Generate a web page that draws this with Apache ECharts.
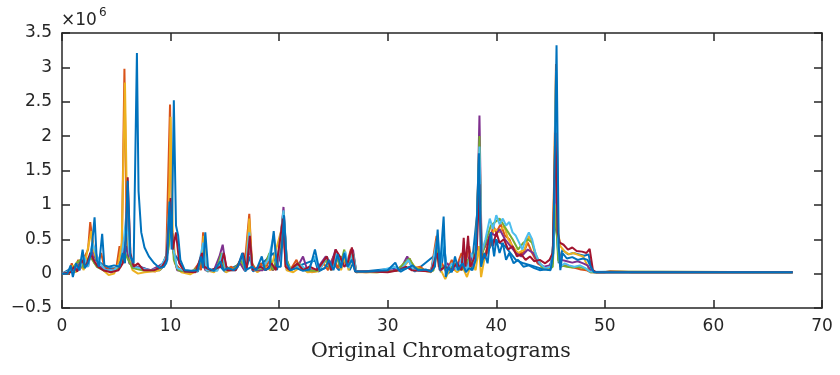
<!DOCTYPE html>
<html><head><meta charset="utf-8">
<script src="https://cdn.jsdelivr.net/npm/echarts@6/dist/echarts.min.js"></script>
<style>html,body{margin:0;padding:0;background:#fff;}#c{width:840px;height:375px;}</style>
</head><body><div id="c"></div>
<script>
// Axis settings / tick labels
const xTicks = [0, 10, 20, 30, 40, 50, 60, 70];
const yTicks = [-0.5, 0, 0.5, 1, 1.5, 2, 2.5, 3, 3.5];
const xTitle = 'Original Chromatograms';
const yExponent = '6';
const seriesColors = ['#0072BD', '#D95319', '#EDB120', '#7E2F8E', '#77AC30', '#4DBEEE', '#A2142F', '#0072BD'];

// Chromatogram traces: [time (min), intensity (x10^6)]
const blueA = [[0,0],[0.9,0.08],[1.2,0.02],[1.6,0.15],[2.0,0.1],[2.5,0.2],[2.8,0.4],[3.1,0.2],[3.6,0.15],[4.2,0.08],[5.0,0.08],[5.6,0.25],[5.95,0.6],[6.2,0.2],[6.6,0.1],[7.2,0.1],[8.0,0.05],[9.0,0.05],[9.6,0.15],[10.0,0.7],[10.3,0.3],[10.7,0.2],[11.2,0.05],[12.5,0.03],[13.1,0.25],[13.4,0.03],[14.6,0.1],[15.0,0.03],[16.5,0.15],[16.9,0.03],[17.3,0.25],[17.6,0.03],[19.5,0.3],[19.8,0.05],[20.4,0.6],[20.7,0.05],[23.3,0.2],[23.6,0.03],[25.0,0.15],[25.5,0.05],[26.1,0.2],[26.5,0.05],[26.8,0.15],[27.1,0.02],[30.7,0.08],[31.2,0.03],[32.0,0.1],[32.5,0.03],[34.6,0.3],[34.9,0.02],[35.2,0.4],[35.5,0.0],[37.4,0.2],[37.7,0.05],[38.45,1.2],[38.7,0.2],[39.3,0.35],[39.8,0.5],[40.3,0.45],[40.8,0.4],[41.3,0.3],[41.8,0.2],[42.5,0.15],[43.2,0.12],[44.0,0.08],[45.0,0.08],[45.5,0.82],[45.75,0.15],[46.1,0.35],[46.6,0.28],[47.1,0.3],[47.6,0.28],[48.1,0.26],[48.5,0.28],[48.8,0.05],[49.1,0.02],[67.3,0.02]];

const orange = [[0,0],[0.6,0],[0.9,0.15],[1.1,0.05],[1.5,0.2],[1.8,0.08],[2.1,0.25],[2.4,0.35],[2.6,0.75],[2.8,0.5],[3.0,0.3],[3.3,0.15],[3.6,0.3],[3.9,0.1],[4.4,0.05],[5.0,0.08],[5.3,0.4],[5.5,0.2],[5.75,2.98],[5.95,0.6],[6.2,0.3],[6.5,0.15],[6.9,0.1],[7.3,0.08],[8.0,0.05],[8.6,0.03],[9.2,0.1],[9.6,0.25],[9.95,2.46],[10.15,0.5],[10.4,0.15],[10.8,0.08],[11.3,0.03],[12.0,0.02],[12.6,0.15],[12.8,0.05],[13.0,0.6],[13.2,0.1],[13.6,0.05],[14.3,0.05],[14.7,0.2],[15.0,0.05],[15.6,0.1],[16.0,0.05],[16.5,0.2],[16.8,0.08],[17.25,0.87],[17.5,0.15],[17.9,0.05],[18.3,0.15],[18.7,0.05],[19.1,0.2],[19.4,0.05],[19.8,0.1],[20.35,0.85],[20.6,0.1],[21.0,0.05],[21.6,0.2],[22.0,0.05],[22.5,0.08],[23.0,0.02],[23.7,0.05],[24.1,0.15],[24.5,0.05],[25.0,0.25],[25.4,0.08],[25.8,0.25],[26.2,0.12],[26.6,0.35],[27.0,0.03],[28,0.02],[29,0.03],[30,0.03],[31,0.05],[31.6,0.15],[32.0,0.22],[32.4,0.08],[33.0,0.1],[33.4,0.05],[34.0,0.04],[34.5,0.55],[34.7,0.1],[35.0,0.15],[35.4,0.02],[35.9,0.2],[36.3,0.08],[36.8,0.3],[37.1,0.1],[37.5,0.4],[37.8,0.1],[38.1,0.3],[38.4,1.6],[38.6,0.2],[39.0,0.25],[39.4,0.4],[39.7,0.7],[40.0,0.6],[40.4,0.72],[40.8,0.55],[41.2,0.5],[41.6,0.35],[42.0,0.3],[42.5,0.3],[42.9,0.45],[43.3,0.3],[43.8,0.15],[44.3,0.1],[44.8,0.08],[45.2,0.15],[45.5,3.05],[45.7,0.5],[45.9,0.1],[46.3,0.12],[46.8,0.1],[47.3,0.08],[47.8,0.06],[48.3,0.05],[48.7,0.02],[50.0,0.02],[50.5,0.04],[51.5,0.03],[52.5,0.02],[67.3,0.02]];

const yellow = [[0,0],[0.7,0.02],[1.0,0.12],[1.3,0.02],[1.7,0.15],[2.0,0.05],[2.3,0.3],[2.55,0.5],[2.7,0.62],[2.9,0.35],[3.2,0.2],[3.5,0.1],[3.8,0.05],[4.3,-0.02],[4.8,0.0],[5.2,0.15],[5.5,0.45],[5.8,2.78],[6.0,0.8],[6.2,0.2],[6.5,0.05],[7.0,0.0],[7.6,0.02],[8.3,0.03],[9.0,0.05],[9.5,0.15],[9.8,0.4],[10.0,2.28],[10.2,0.6],[10.5,0.1],[11.0,0.02],[11.8,-0.01],[12.5,0.05],[12.9,0.3],[13.05,0.55],[13.3,0.05],[14.0,0.02],[14.7,0.15],[15.1,0.02],[15.9,0.08],[16.5,0.15],[16.9,0.05],[17.25,0.8],[17.5,0.1],[18.0,0.02],[18.7,0.1],[19.2,0.05],[20.4,0.75],[20.7,0.05],[21.3,0.02],[22.0,0.1],[22.6,0.02],[23.5,0.03],[24.4,0.2],[24.8,0.05],[25.3,0.3],[25.7,0.05],[26.1,0.25],[26.4,0.05],[26.8,0.3],[27.1,0.02],[29.0,0.02],[30.5,0.04],[31.5,0.1],[32.0,0.2],[32.5,0.1],[33.2,0.05],[34.0,0.02],[34.6,0.4],[34.9,0.05],[35.3,-0.08],[35.8,0.1],[36.4,0.02],[36.9,0.1],[37.3,-0.05],[37.7,0.15],[38.1,0.05],[38.4,0.4],[38.6,-0.05],[39.0,0.3],[39.5,0.55],[39.9,0.65],[40.3,0.6],[40.7,0.7],[41.1,0.5],[41.5,0.4],[42.0,0.3],[42.6,0.35],[43.0,0.55],[43.3,0.45],[43.7,0.2],[44.2,0.1],[44.8,0.08],[45.2,0.2],[45.5,2.9],[45.7,0.6],[45.9,0.4],[46.3,0.32],[46.7,0.28],[47.1,0.3],[47.6,0.27],[48.0,0.25],[48.3,0.15],[48.6,0.05],[49.0,0.02],[51,0.03],[67.3,0.02]];

const purple = [[0,0],[0.8,0.05],[1.2,0.1],[1.6,0.05],[2.0,0.2],[2.4,0.1],[2.7,0.35],[3.0,0.15],[3.5,0.1],[4.2,0.05],[5.0,0.05],[5.5,0.2],[5.9,0.4],[6.2,0.15],[6.8,0.1],[7.5,0.08],[8.2,0.05],[8.8,0.1],[9.3,0.15],[9.7,0.3],[10.0,0.9],[10.3,0.3],[10.6,0.05],[11.5,0.03],[12.3,0.05],[12.9,0.2],[13.2,0.05],[14.0,0.05],[14.5,0.25],[14.8,0.42],[15.1,0.1],[15.7,0.05],[16.4,0.15],[16.8,0.05],[17.3,0.35],[17.6,0.05],[18.5,0.05],[19.0,0.25],[19.4,0.05],[20.0,0.2],[20.4,0.97],[20.7,0.2],[21.0,0.05],[21.7,0.1],[22.2,0.25],[22.6,0.05],[23.4,0.05],[24.3,0.25],[24.7,0.1],[25.2,0.35],[25.6,0.1],[26.0,0.3],[26.4,0.1],[26.8,0.35],[27.1,0.03],[29,0.03],[30.5,0.05],[31.3,0.1],[31.8,0.25],[32.2,0.1],[33.0,0.05],[34.0,0.05],[34.6,0.45],[34.9,0.05],[35.5,0.15],[36.0,0.05],[36.8,0.2],[37.2,0.05],[37.6,0.3],[37.9,0.1],[38.2,0.5],[38.45,2.3],[38.65,0.3],[39.0,0.4],[39.5,0.6],[39.9,0.55],[40.3,0.65],[40.8,0.5],[41.3,0.4],[41.8,0.3],[42.3,0.25],[42.9,0.35],[43.4,0.3],[43.9,0.15],[44.4,0.1],[44.9,0.12],[45.2,0.2],[45.45,1.5],[45.7,0.3],[46.0,0.2],[46.5,0.18],[47.0,0.16],[47.5,0.18],[48.0,0.15],[48.4,0.12],[48.7,0.04],[49.2,0.02],[67.3,0.02]];

const green = [[0,0.0],[0.9,0.05],[1.3,0.15],[1.7,0.2],[2.0,0.08],[2.5,0.25],[2.8,0.2],[3.2,0.1],[3.8,0.05],[4.6,0.03],[5.4,0.1],[5.8,0.3],[6.1,0.2],[6.5,0.08],[7.4,0.05],[8.5,0.05],[9.2,0.1],[9.8,0.35],[10.05,0.8],[10.3,0.2],[10.7,0.05],[11.8,0.02],[12.6,0.1],[13.0,0.3],[13.3,0.05],[14.2,0.05],[14.7,0.3],[15.0,0.1],[15.8,0.05],[16.5,0.2],[16.9,0.05],[17.3,0.45],[17.6,0.05],[18.6,0.08],[19.1,0.3],[19.4,0.05],[20.0,0.3],[20.4,0.9],[20.7,0.2],[21.1,0.05],[21.8,0.15],[22.4,0.05],[23.5,0.04],[24.3,0.2],[24.8,0.05],[25.2,0.3],[25.6,0.1],[26.0,0.35],[26.3,0.1],[26.8,0.3],[27.1,0.03],[29,0.02],[30.8,0.04],[31.5,0.15],[32.0,0.22],[32.5,0.08],[33.5,0.05],[34.2,0.04],[34.6,0.35],[34.9,0.1],[35.5,0.05],[36.3,0.15],[36.8,0.05],[37.4,0.2],[37.8,0.15],[38.15,0.4],[38.45,2.0],[38.65,0.25],[39.0,0.45],[39.5,0.7],[39.9,0.75],[40.3,0.8],[40.7,0.7],[41.1,0.6],[41.5,0.5],[42.0,0.35],[42.5,0.45],[42.9,0.5],[43.3,0.45],[43.7,0.25],[44.2,0.1],[44.8,0.05],[45.2,0.1],[45.45,1.0],[45.7,0.2],[46.0,0.12],[46.5,0.1],[47.0,0.09],[47.5,0.1],[48.0,0.08],[48.4,0.06],[48.7,0.02],[67.3,0.02]];

const lightBlue = [[0,0],[0.9,0.05],[1.3,0.12],[1.6,0.05],[2.0,0.25],[2.4,0.1],[2.8,0.45],[3.1,0.3],[3.5,0.15],[4.0,0.05],[4.8,0.05],[5.4,0.15],[5.7,0.5],[5.95,0.9],[6.2,0.3],[6.6,0.1],[7.2,0.08],[8.2,0.05],[9.0,0.08],[9.6,0.25],[9.9,1.0],[10.2,0.4],[10.6,0.08],[11.5,0.03],[12.5,0.05],[13.0,0.45],[13.3,0.05],[14.3,0.04],[14.8,0.3],[15.1,0.05],[16.0,0.05],[16.6,0.25],[16.9,0.05],[17.25,0.6],[17.5,0.05],[18.5,0.1],[19.0,0.2],[19.5,0.55],[19.8,0.1],[20.4,0.92],[20.7,0.15],[21.1,0.05],[22.0,0.12],[22.6,0.05],[23.3,0.25],[23.7,0.05],[24.4,0.25],[24.8,0.05],[25.3,0.3],[25.7,0.15],[26.1,0.32],[26.4,0.08],[26.8,0.3],[27.1,0.03],[29,0.03],[30.6,0.1],[31.2,0.05],[31.9,0.2],[32.4,0.05],[33.3,0.04],[34.0,0.03],[34.6,0.55],[34.85,0.08],[35.15,0.6],[35.4,0.0],[35.9,0.15],[36.4,0.05],[36.9,0.25],[37.3,0.05],[37.7,0.3],[38.0,0.15],[38.2,0.6],[38.45,1.85],[38.65,0.3],[39.0,0.5],[39.4,0.8],[39.7,0.65],[40.0,0.85],[40.3,0.72],[40.6,0.8],[40.9,0.7],[41.2,0.75],[41.5,0.6],[41.8,0.55],[42.1,0.45],[42.4,0.35],[42.7,0.5],[43.0,0.6],[43.3,0.5],[43.6,0.3],[44.0,0.15],[44.5,0.08],[45.0,0.1],[45.3,0.4],[45.5,2.95],[45.7,0.4],[45.9,0.1],[46.3,0.15],[46.7,0.12],[47.2,0.1],[47.7,0.12],[48.2,0.08],[48.6,0.03],[67.3,0.02]];

const darkRed = [[0,0],[0.8,0.02],[1.1,0.1],[1.4,0.03],[1.8,0.2],[2.2,0.1],[2.6,0.3],[2.9,0.2],[3.3,0.1],[3.8,0.05],[4.5,0.02],[5.2,0.05],[5.6,0.15],[5.85,0.35],[6.05,1.4],[6.3,0.3],[6.6,0.1],[7.0,0.15],[7.5,0.05],[8.5,0.05],[9.2,0.1],[9.6,0.2],[10.0,1.1],[10.2,0.35],[10.5,0.6],[10.8,0.15],[11.3,0.03],[12.3,0.02],[12.9,0.3],[13.1,0.1],[13.7,0.05],[14.6,0.1],[14.9,0.3],[15.2,0.05],[16.0,0.05],[16.7,0.3],[17.0,0.05],[17.3,0.55],[17.55,0.05],[18.3,0.1],[18.8,0.05],[19.3,0.15],[19.7,0.05],[20.35,0.8],[20.6,0.1],[21.0,0.05],[21.7,0.15],[22.2,0.05],[22.8,0.1],[23.5,0.05],[24.4,0.25],[24.8,0.05],[25.2,0.35],[25.6,0.25],[26.0,0.1],[26.3,0.15],[26.7,0.38],[27.0,0.03],[28.5,0.03],[30.0,0.02],[31.0,0.05],[31.7,0.1],[32.2,0.05],[33.0,0.04],[34.0,0.03],[34.55,0.3],[34.8,0.05],[35.3,0.1],[35.8,0.05],[36.4,0.15],[36.8,0.05],[37.0,0.52],[37.15,0.1],[37.4,0.55],[37.6,0.1],[37.9,0.2],[38.2,0.35],[38.45,1.3],[38.65,0.2],[39.0,0.25],[39.4,0.55],[39.7,0.4],[40.0,0.6],[40.3,0.45],[40.7,0.5],[41.1,0.35],[41.5,0.4],[41.9,0.25],[42.3,0.28],[42.7,0.2],[43.1,0.25],[43.5,0.18],[44.0,0.2],[44.5,0.15],[44.9,0.2],[45.2,0.3],[45.45,2.05],[45.65,0.6],[45.85,0.45],[46.2,0.42],[46.6,0.35],[47.0,0.38],[47.4,0.33],[47.9,0.32],[48.3,0.3],[48.6,0.36],[48.9,0.05],[49.2,0.02],[67.3,0.02]];

const blueB = [[0,0],[0.5,0],[0.8,0.12],[1.0,-0.05],[1.3,0.15],[1.6,0.05],[1.9,0.35],[2.1,0.08],[2.4,0.15],[2.7,0.3],[3.0,0.82],[3.2,0.2],[3.4,0.1],[3.7,0.58],[3.9,0.12],[4.3,0.1],[4.8,0.12],[5.3,0.1],[5.6,0.3],[5.8,0.15],[6.05,1.35],[6.3,0.25],[6.6,0.15],[6.9,3.21],[7.05,1.2],[7.3,0.6],[7.6,0.38],[8.0,0.25],[8.5,0.15],[9.0,0.08],[9.4,0.1],[9.7,0.2],[9.9,1.05],[10.1,0.35],[10.3,2.52],[10.5,0.7],[10.7,0.55],[10.9,0.2],[11.3,0.05],[12.0,0.04],[12.5,0.05],[12.8,0.25],[13.0,0.08],[13.2,0.6],[13.45,0.08],[14.0,0.04],[14.6,0.18],[14.9,0.05],[15.3,0.08],[15.8,0.05],[16.2,0.1],[16.6,0.3],[16.9,0.05],[17.5,0.1],[17.9,0.05],[18.4,0.25],[18.7,0.05],[19.1,0.08],[19.5,0.62],[19.8,0.1],[20.15,0.1],[20.45,0.85],[20.7,0.15],[21.0,0.05],[21.6,0.08],[22.2,0.04],[22.8,0.06],[23.3,0.35],[23.7,0.05],[24.2,0.08],[24.6,0.2],[25.0,0.05],[25.4,0.28],[25.7,0.08],[26.0,0.3],[26.3,0.1],[26.7,0.2],[27.0,0.03],[28,0.03],[29,0.04],[30.0,0.05],[30.7,0.16],[31.0,0.05],[31.8,0.08],[32.3,0.12],[32.8,0.05],[33.5,0.06],[34.0,0.03],[34.35,0.1],[34.6,0.64],[34.8,0.05],[35.15,0.83],[35.35,-0.05],[35.6,0.1],[35.9,0.02],[36.2,0.25],[36.5,0.05],[36.9,0.15],[37.2,0.02],[37.5,0.08],[37.8,0.05],[38.1,0.2],[38.4,1.75],[38.6,0.1],[38.9,0.3],[39.2,0.15],[39.5,0.6],[39.8,0.25],[40.0,0.5],[40.3,0.3],[40.6,0.45],[40.9,0.2],[41.2,0.3],[41.6,0.15],[42.0,0.2],[42.5,0.1],[43.0,0.12],[43.5,0.08],[44.0,0.05],[44.5,0.06],[45.0,0.05],[45.25,0.3],[45.55,3.32],[45.75,0.4],[45.9,0.05],[46.1,0.3],[46.5,0.22],[47.0,0.24],[47.5,0.2],[48.0,0.22],[48.4,0.2],[48.7,0.1],[49.0,0.02],[67.3,0.02]];

const traces = [blueA, orange, yellow, purple, green, lightBlue, darkRed, blueB];

const chart = echarts.init(document.getElementById('c'), null, {renderer: 'canvas'});
const axisColor = '#262626';
const labelFont = {fontFamily: 'DejaVu Sans', fontSize: 17, color: '#262626'};
function fmtY(v){ return v < 0 ? '\u2212' + Math.abs(v) : String(v); }
function axisBase(pos, showLabel, extra){
  return Object.assign({
    type: 'value', position: pos,
    axisLine: {show: true, onZero: false, lineStyle: {color: axisColor, width: 1.5}},
    axisTick: {show: true, inside: true, length: 8, lineStyle: {color: axisColor, width: 1.5}},
    axisLabel: showLabel ? Object.assign({margin: 10}, labelFont) : {show: false},
    splitLine: {show: false}
  }, extra);
}
const xr = {min: xTicks[0], max: xTicks[xTicks.length-1], interval: 10};
const yr = {min: yTicks[0], max: yTicks[yTicks.length-1], interval: 0.5};
chart.setOption({
  animation: false,
  backgroundColor: '#fff',
  grid: {left: 62, right: 18, top: 33, bottom: 67},
  xAxis: [axisBase('bottom', true, xr), axisBase('top', false, xr)],
  yAxis: [axisBase('left', true, yr), axisBase('right', false, yr)],
  graphic: [
    {type: 'text', left: 61, top: 12, style: {text: '\u00d710', font: '17px "DejaVu Sans"', fill: '#262626'}},
    {type: 'text', left: 99, top: 7, style: {text: yExponent, font: '12px "DejaVu Sans"', fill: '#262626'}},
    {type: 'text', left: 311, top: 341, style: {text: xTitle, font: '20.5px "DejaVu Serif"', fill: '#262626'}}
  ],
  series: traces.map((d, i) => ({
    type: 'line', data: d, xAxisIndex: 0, yAxisIndex: 0, showSymbol: false, symbol: 'none',
    lineStyle: {color: seriesColors[i], width: 2}, itemStyle: {color: seriesColors[i]}
  }))
});
chart.setOption({yAxis: [{axisLabel: {formatter: fmtY}}]});
</script>
</body></html>
